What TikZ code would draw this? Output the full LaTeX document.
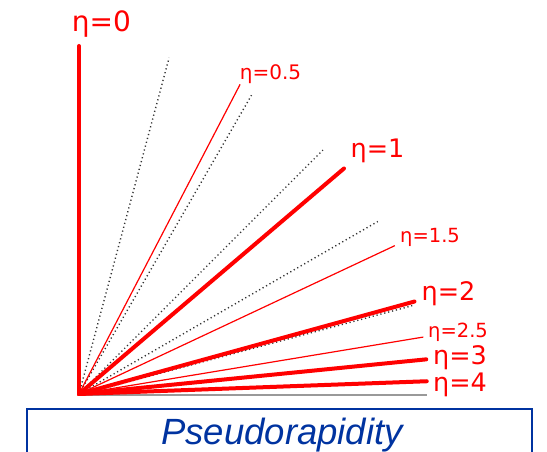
\documentclass[tikz,border=0pt]{standalone}
\usepackage{fontspec}
\setmainfont{DejaVu Sans}
\newfontfamily\boxfont{Liberation Sans}
\usetikzlibrary{calc}
\definecolor{etared}{RGB}{255,0,0}
\definecolor{boxblue}{RGB}{0,51,160}
\tikzset{
  thickray/.style={draw=etared,line width=4pt,line cap=round},
  thinray/.style={draw=etared,line width=1.2pt},
  dotray/.style={draw=black!80,line width=1.4pt,dash pattern=on 1.2pt off 2.8pt},
  baseray/.style={draw=black!40,line width=1.5pt},
  etalabel/.style={text=etared,inner sep=0pt,anchor=base},
  titlebox/.style={draw=boxblue,line width=2pt},
  titletext/.style={text=boxblue,inner sep=0pt,anchor=base,font=\boxfont\itshape\fontsize{36.5}{40}\selectfont}
}
\begin{document}
\begin{tikzpicture}[x=1pt,y=1pt]
\useasboundingbox (0,0) rectangle (547,452);
\coordinate (O) at (79,58);
% ray ends
\coordinate (e0)  at ($(O)+(90:348)$);
\coordinate (e05) at ($(O)+(62.51:349)$);
\coordinate (e1)  at ($(O)+(40.40:348)$);
\coordinate (e15) at ($(O)+(25.16:349)$);
\coordinate (e2)  at ($(O)+(15.41:348)$);
\coordinate (e25) at ($(O)+(9.39:349)$);
\coordinate (e3)  at ($(O)+(5.70:349)$);
\coordinate (e4)  at ($(O)+(2.10:348)$);
\coordinate (d75) at ($(O)+(75:348)$);
\coordinate (d60) at ($(O)+(60:345)$);
\coordinate (d45) at ($(O)+(45:345)$);
\coordinate (d30) at ($(O)+(30:345)$);
\coordinate (d15) at ($(O)+(15:345)$);
\coordinate (b0)  at ($(O)+(0:348)$);
% baseline
\draw[baseray] ($(O)+(0,-1)$) -- ($(b0)+(0,-1)$);
% dotted rays
\draw[dotray] (O) -- (d75);
\draw[dotray] (O) -- (d60);
\draw[dotray] (O) -- (d45);
\draw[dotray] (O) -- (d30);
\draw[dotray] ($(O)+(0,-1)$) -- ($(d15)+(0,-1)$);
% red rays
\draw[thinray] (O) -- (e05);
\draw[thinray] (O) -- (e15);
\draw[thinray] (O) -- (e25);
\draw[thickray] (O) -- (e0);
\draw[thickray] (O) -- (e1);
\draw[thickray] (O) -- (e2);
\draw[thickray] (O) -- (e3);
\draw[thickray] (O) -- (e4);
% labels
\node[etalabel,font=\fontsize{28}{30}\selectfont] (l0) at (101.5,420) {η=0};
\node[etalabel,font=\fontsize{20}{22}\selectfont] (l05) at (270.5,372) {η=0.5};
\node[etalabel,font=\fontsize{25.5}{27}\selectfont] (l1) at (377.5,294) {η=1};
\node[etalabel,font=\fontsize{19.5}{21}\selectfont] (l15) at (430,209) {η=1.5};
\node[etalabel,font=\fontsize{25.5}{27}\selectfont] (l2) at (448.5,151) {η=2};
\node[etalabel,font=\fontsize{19.5}{21}\selectfont] (l25) at (458,114) {η=2.5};
\node[etalabel,font=\fontsize{25.5}{27}\selectfont] (l3) at (460,87) {η=3};
\node[etalabel,font=\fontsize{25.5}{27}\selectfont] (l4) at (460,60) {η=4};
% title box
\draw[titlebox] (27,43) rectangle (532,-8);
\node[titletext] (title) at (282,7) {Pseudorapidity};
\end{tikzpicture}
\end{document}
